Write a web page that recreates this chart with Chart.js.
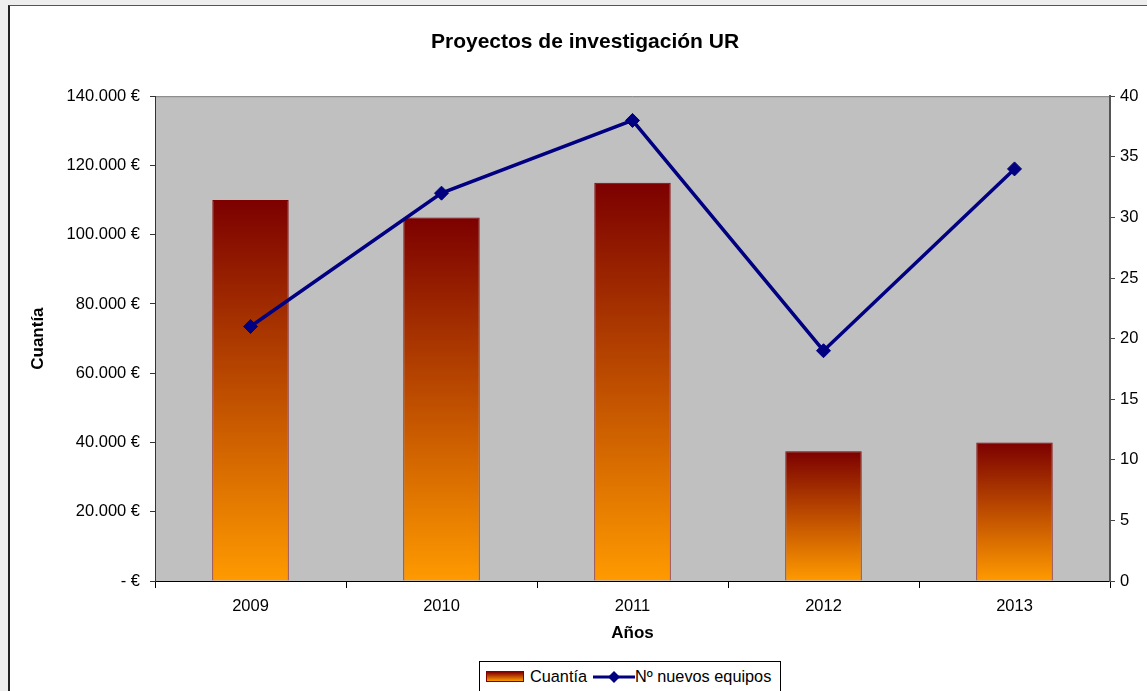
<!DOCTYPE html>
<html>
<head>
<meta charset="utf-8">
<script src="https://cdn.jsdelivr.net/npm/chart.js@4/dist/chart.umd.min.js"></script>
<style>
  body { margin: 0; background: #eeeeee; overflow: hidden; font-family: "Liberation Sans", Arial, sans-serif; }
  #panel { position: absolute; left: 8px; top: 5px; width: 1200px; height: 720px; background: #fff;
           border-left: 2px solid #222; border-top: 1px solid #555; }
  #wrap { position: absolute; left: 10px; top: 7px; width: 1150px; height: 650px; }
  #legend { position: absolute; left: 479px; top: 661px; width: 300px; height: 29px; border: 1px solid #000;
            background: #fff; font-size: 16.3px; color: #000; display: flex; align-items: center; }
  .sw { display: inline-block; width: 36px; height: 9px; margin: 0 6px 0 6px; border: 1px solid #800000;
        background: linear-gradient(to bottom, #800000, #ff9900); }
</style>
</head>
<body>
<div id="panel"></div>
<div id="wrap"><canvas id="comboChart" width="1150" height="650"></canvas></div>
<div id="legend">
  <span class="sw"></span><span>Cuantía</span>
  <svg width="42" height="16" style="margin-left:6px"><line x1="0" y1="8" x2="42" y2="8" stroke="#000080" stroke-width="3"/><polygon points="21,2 27,8 21,14 15,8" fill="#000080"/></svg><span>Nº nuevos equipos</span>
</div>
<script>
// data
var years = ['2009', '2010', '2011', '2012', '2013'];
var cuantia = [110000, 105000, 115000, 37500, 40000];
var equipos = [21, 32, 38, 19, 34];
var leftMax = 140000, leftStep = 20000;
var rightMax = 40, rightStep = 5;

function euro(v) {
    if (v === 0) return '- €';
    return String(v).replace(/\B(?=(\d{3})+(?!\d))/g, '.') + ' €';
}

// grey plot background
var plotBg = {
    id: 'plotBg',
    beforeDraw: function (chart) {
        var a = chart.chartArea, c = chart.ctx;
        c.save();
        c.fillStyle = '#c0c0c0';
        c.fillRect(a.left, a.top, a.right - a.left, a.bottom - a.top);
        c.strokeStyle = '#808080';
        c.lineWidth = 1;
        c.beginPath();
        c.moveTo(a.left, a.top + 0.5);
        c.lineTo(a.right, a.top + 0.5);
        c.stroke();
        c.restore();
    }
};

function barGradient(context) {
    var chart = context.chart;
    if (!chart.chartArea || !chart.scales.y) return '#c05000';
    var v = context.raw;
    var top = chart.scales.y.getPixelForValue(v);
    var base = chart.scales.y.getPixelForValue(0);
    if (!isFinite(top) || !isFinite(base)) return '#c05000';
    var g = chart.ctx.createLinearGradient(0, top, 0, base);
    g.addColorStop(0, '#7c0000');
    g.addColorStop(1, '#ff9a00');
    return g;
}

var ctx = document.getElementById('comboChart').getContext('2d');
var chart = new Chart(ctx, {
    type: 'bar',
    data: {
        labels: years,
        datasets: [{
            label: 'Cuantía',
            data: cuantia,
            yAxisID: 'y',
            backgroundColor: barGradient,
            borderColor: '#800000',
            borderWidth: 1,
            barPercentage: 0.4,
            categoryPercentage: 1,
            order: 2
        }, {
            type: 'line',
            label: 'Nº nuevos equipos',
            data: equipos,
            yAxisID: 'y1',
            borderColor: '#000080',
            backgroundColor: '#000080',
            borderWidth: 3.5,
            pointStyle: 'rectRot',
            pointRadius: 7,
            pointBorderWidth: 1,
            tension: 0,
            fill: false,
            order: 1
        }]
    },
    options: {
        responsive: false,
        animation: false,
        layout: { padding: 0 },
        plugins: {
            legend: { display: false },
            tooltip: { enabled: false },
            title: {
                display: true,
                text: 'Proyectos de investigación UR',
                color: '#000',
                font: { family: 'Liberation Sans', size: 21, weight: 'bold' },
                padding: { top: 23, bottom: 41 }
            }
        },
        scales: {
            x: {
                grid: { drawOnChartArea: false, tickLength: 7, color: '#000', offset: true },
                border: { color: '#000', width: 1 },
                ticks: { color: '#000', padding: 9, font: { family: 'Liberation Sans', size: 16.5 } },
                title: { display: true, text: 'Años', color: '#000', padding: { top: 0, bottom: 13 },
                         font: { family: 'Liberation Sans', size: 17, weight: 'bold' } },
                afterFit: function (s) { s.height = 76; }
            },
            y: {
                position: 'left',
                min: 0, max: leftMax,
                grid: { drawOnChartArea: false, tickLength: 5, color: '#333' },
                border: { color: '#333', width: 1 },
                ticks: { stepSize: leftStep, color: '#000', padding: 10, callback: euro,
                         font: { family: 'Liberation Sans', size: 16.5 } },
                title: { display: true, text: 'Cuantía', color: '#000', padding: { top: 18, bottom: 0 },
                         font: { family: 'Liberation Sans', size: 17, weight: 'bold' } },
                afterFit: function (s) { s.width = 145; }
            },
            y1: {
                position: 'right',
                min: 0, max: rightMax,
                grid: { drawOnChartArea: false, tickLength: 5, color: '#444' },
                border: { color: '#555', width: 2 },
                ticks: { stepSize: rightStep, color: '#000', padding: 5,
                         font: { family: 'Liberation Sans', size: 16.5 } },
                afterFit: function (s) { s.width = 50; }
            }
        }
    },
    plugins: [plotBg]
});
</script>
</body>
</html>
